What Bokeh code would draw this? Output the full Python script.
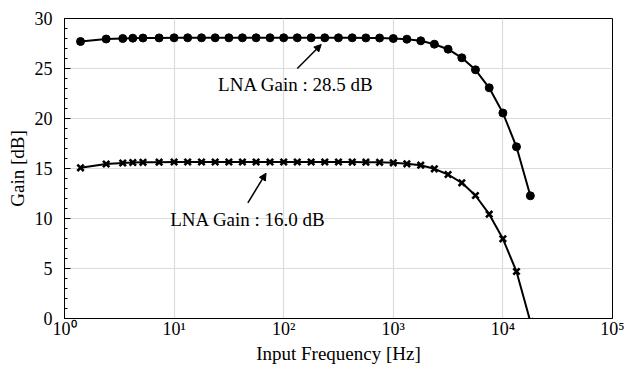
from bokeh.plotting import figure
from bokeh.models import FixedTicker, Label, Arrow, NormalHead, Range1d
from bokeh.embed import file_html
from bokeh.resources import INLINE

# ---- data ----
freq_hz = [1.4, 2.4, 3.4, 4.2, 5.2, 7.3, 10, 13.3, 17.8, 23.7, 31.6, 42, 56, 75,
           100, 133, 178, 237, 316, 422, 562, 750, 1000, 1330, 1780, 2370, 3160,
           4220, 5620, 7500, 10000, 13300, 17800]
gain_28_5 = [27.7, 27.95, 28.0, 28.03, 28.05, 28.06, 28.07, 28.07, 28.07, 28.07,
             28.07, 28.07, 28.07, 28.07, 28.07, 28.07, 28.07, 28.07, 28.07, 28.07,
             28.06, 28.05, 28.0, 27.93, 27.77, 27.43, 26.93, 26.07, 24.87, 23.07,
             20.55, 17.17, 12.27]
gain_16_0 = [15.07, 15.45, 15.55, 15.6, 15.62, 15.63, 15.65, 15.65, 15.65, 15.65,
             15.65, 15.65, 15.65, 15.65, 15.65, 15.65, 15.65, 15.65, 15.65, 15.64,
             15.63, 15.62, 15.57, 15.47, 15.33, 14.97, 14.4, 13.57, 12.3, 10.43,
             7.97, 4.7, -0.3]
x_ticks = [1, 10, 100, 1000, 10000, 100000]
x_tick_labels = ["10⁰", "10¹", "10²", "10³", "10⁴", "10⁵"]
y_ticks = [0, 5, 10, 15, 20, 25, 30]
y_minor = [v for v in range(0, 31) if v % 5 != 0]
label_high = "LNA Gain : 28.5 dB"
label_low = "LNA Gain : 16.0 dB"

FONT = "Liberation Serif"

p = figure(width=628, height=366, x_axis_type="log",
           x_range=Range1d(1, 1e5), y_range=Range1d(0, 30),
           output_backend="svg", toolbar_location=None,
           min_border_left=64, min_border_right=16, min_border_top=18,
           min_border_bottom=48)
p.background_fill_color = "white"
p.border_fill_color = "white"
p.outline_line_color = "black"
p.outline_line_width = 1

# axes
p.xaxis.ticker = FixedTicker(ticks=x_ticks, minor_ticks=[])
p.xaxis.major_label_overrides = {t: s for t, s in zip(x_ticks, x_tick_labels)}
p.yaxis.ticker = FixedTicker(ticks=y_ticks, minor_ticks=y_minor)

for ax in (p.xaxis[0], p.yaxis[0]):
    ax.axis_line_color = "black"
    ax.axis_line_width = 1
    ax.major_label_text_font = FONT
    ax.major_label_text_font_size = "18px"
    ax.major_label_text_color = "black"
    ax.axis_label_text_font = FONT
    ax.axis_label_text_font_size = "19px"
    ax.axis_label_text_font_style = "normal"
    ax.axis_label_text_color = "black"
    ax.major_tick_out = 0
    ax.minor_tick_out = 0

p.xaxis.major_tick_in = 0
p.xaxis.minor_tick_in = 0
p.xaxis.major_label_standoff = 0
p.xaxis.axis_label = "Input Frequency [Hz]"
p.xaxis.axis_label_standoff = 1

p.yaxis.major_tick_in = 6
p.yaxis.minor_tick_in = 3
p.yaxis.major_tick_line_color = "black"
p.yaxis.minor_tick_line_color = "black"
p.yaxis.major_label_standoff = 12
p.yaxis.axis_label = "Gain [dB]"
p.yaxis.axis_label_standoff = 4

p.xgrid.grid_line_color = "#dcdcdc"
p.ygrid.grid_line_color = "#dcdcdc"
p.xgrid.grid_line_width = 1.2
p.ygrid.grid_line_width = 1.2

# series
p.line(freq_hz, gain_28_5, line_color="black", line_width=2)
p.scatter(freq_hz, gain_28_5, marker="circle", size=8, fill_color="black",
          line_color="black")
p.line(freq_hz, gain_16_0, line_color="black", line_width=2)
p.scatter(freq_hz, gain_16_0, marker="x", size=9, line_color="black",
          line_width=2.6)

# annotations
p.add_layout(Label(x=25.2, y=23.4, text=label_high, text_font=FONT,
                   text_font_size="19px", text_baseline="middle",
                   text_color="black"))
p.add_layout(Label(x=9.2, y=9.9, text=label_low, text_font=FONT,
                   text_font_size="19px", text_baseline="middle",
                   text_color="black"))
p.add_layout(Arrow(x_start=133, y_start=25.0, x_end=220, y_end=27.4,
                   line_color="black", line_width=1.5,
                   end=NormalHead(size=7, fill_color="black", line_color="black")))
p.add_layout(Arrow(x_start=47.1, y_start=11.57, x_end=69, y_end=14.53,
                   line_color="black", line_width=1.5,
                   end=NormalHead(size=7, fill_color="black", line_color="black")))

open("out.html", "w").write(file_html(p, INLINE))
